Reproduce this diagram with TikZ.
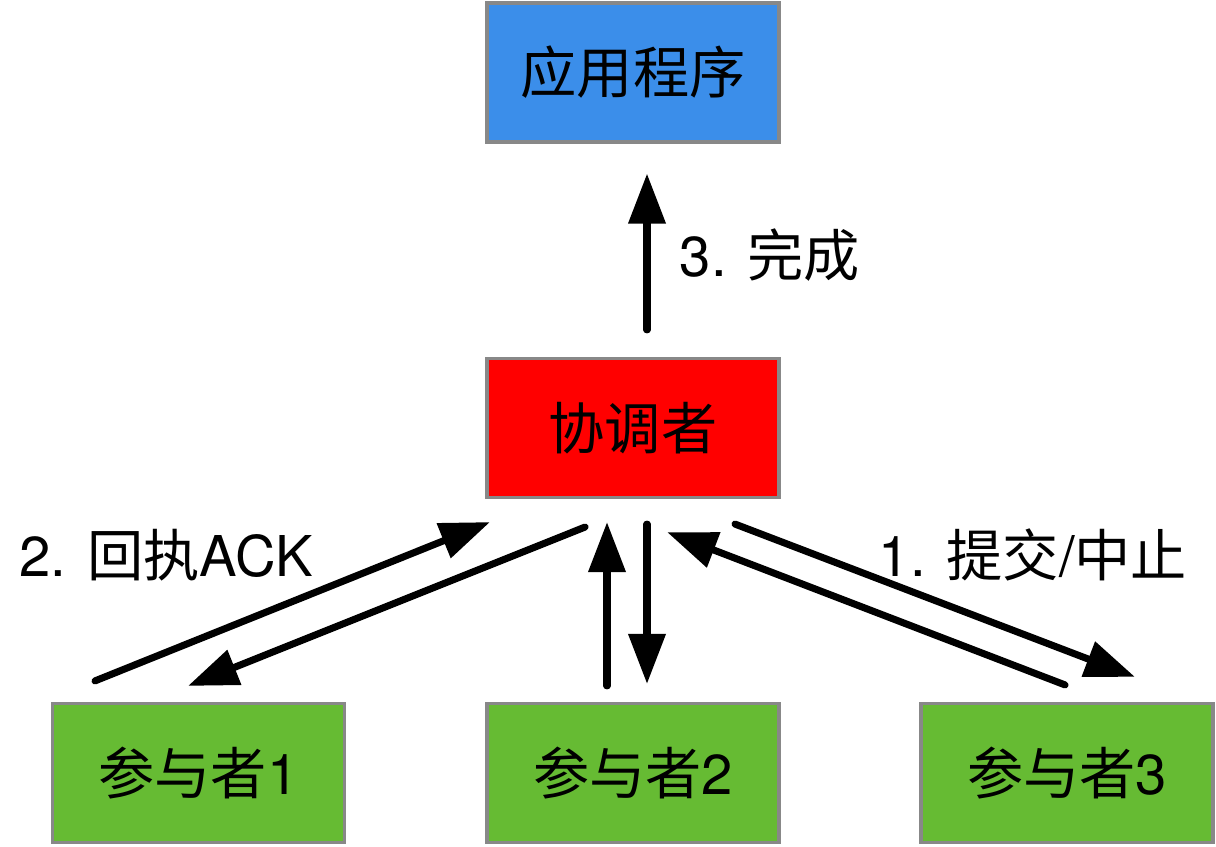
\documentclass[tikz,border=0pt]{standalone}
\usepackage{fontspec}
\setmainfont{TeX Gyre Heros}
\newfontfamily\cjk{Noto Sans CJK SC}
\usetikzlibrary{arrows.meta, positioning}

\definecolor{appblue}{RGB}{59,142,234}
\definecolor{coordred}{RGB}{255,0,0}
\definecolor{partgreen}{RGB}{102,187,51}
\definecolor{boxgray}{RGB}{136,136,136}

\tikzset{
    box/.style={draw=boxgray, line width=0.9pt, minimum width=2.92cm, minimum height=1.39cm, inner sep=0pt, font=\fontsize{16}{19}\selectfont},
    flow/.style={line width=2pt, line cap=round, -{Triangle[length=0.5cm, width=0.36cm]}},
    lbl/.style={font=\fontsize{16}{19}\selectfont}
}

\begin{document}
\begin{tikzpicture}
    \useasboundingbox (0,0) rectangle (12.16,8.46);
    % Define nodes
    \node[box, fill=appblue] (app) at (6.33,7.735) {\cjk 应用程序};
    \node[box, fill=coordred] (coord) at (6.33,4.18) {\cjk 协调者};
    \node[box, fill=partgreen] (p1) at (1.985,0.73) {{\cjk 参与者}1};
    \node[box, fill=partgreen] (p2) at (6.33,0.73) {{\cjk 参与者}2};
    \node[box, fill=partgreen] (p3) at (10.67,0.73) {{\cjk 参与者}3};
    % Labels
    \node[lbl] (done) at (7.70,5.91) {3. {\cjk 完成}};
    \node[lbl] (ack) at (1.66,2.91) {2. {\cjk 回执}ACK};
    \node[lbl] (commit) at (10.33,2.91) {1. {\cjk 提交}/{\cjk 中止}};
    % Draw edges
    \draw[flow] ([shift={(0.14,0.27)}]coord.north) -- ([shift={(0.14,-0.30)}]app.south);
    \draw[flow] ([shift={(-1.035,0.21)}]p1.north) -- ([shift={(-1.43,-0.23)}]coord.south);
    \draw[flow] ([shift={(-0.48,-0.28)}]coord.south) -- ([shift={(-0.105,0.16)}]p1.north);
    \draw[flow] ([shift={(-0.26,0.16)}]p2.north) -- ([shift={(-0.26,-0.23)}]coord.south);
    \draw[flow] ([shift={(0.14,-0.25)}]coord.south) -- ([shift={(0.14,0.18)}]p2.north);
    \draw[flow] ([shift={(1.02,-0.25)}]coord.south) -- ([shift={(0.68,0.25)}]p3.north);
    \draw[flow] ([shift={(-0.02,0.17)}]p3.north) -- ([shift={(0.34,-0.33)}]coord.south);

\end{tikzpicture}
\end{document}
